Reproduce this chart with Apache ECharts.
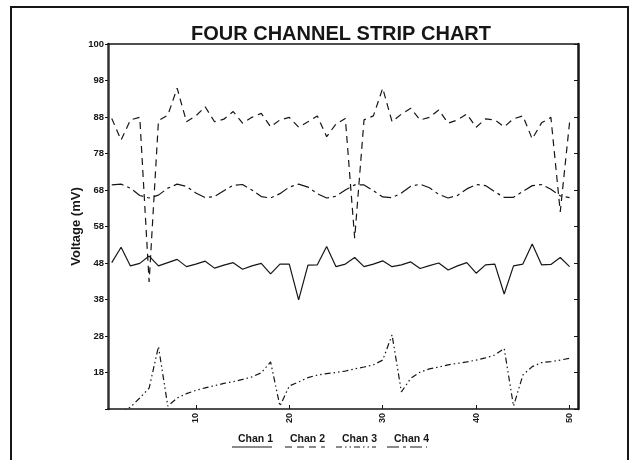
<!DOCTYPE html>
<html><head><meta charset="utf-8">
<script src="https://cdn.jsdelivr.net/npm/echarts@6/dist/echarts.min.js"></script>
<style>html,body{margin:0;padding:0;background:#fff}#c{width:639px;height:460px}</style>
</head><body><div id="c"></div>
<script>
const sampleIndex = [1,2,3,4,5,6,7,8,9,10,11,12,13,14,15,16,17,18,19,20,21,22,23,24,25,26,27,28,29,30,31,32,33,34,35,36,37,38,39,40,41,42,43,44,45,46,47,48,49,50];
const seriesNames = ['Chan 1','Chan 2','Chan 3','Chan 4'];
const chan1 = [40.1,44.3,39.2,39.9,41.9,39.2,40.1,41.0,39.0,39.7,40.5,38.6,39.4,40.1,38.3,39.2,39.9,37.0,39.7,39.7,29.9,39.4,39.5,44.5,39.0,39.7,41.5,39.0,39.7,40.6,39.0,39.5,40.3,38.5,39.3,40.0,38.1,39.2,40.1,37.2,39.5,39.7,31.5,39.2,39.7,45.2,39.5,39.6,41.5,39.0];
const chan2 = [79.6,73.7,79.2,79.9,34.8,79.0,80.5,87.9,78.7,80.3,82.8,78.7,79.4,81.5,78.3,79.9,81.0,77.3,79.2,79.9,77.2,78.7,80.3,74.6,78.1,79.6,46.8,79.2,80.3,87.9,78.7,80.8,82.4,79.2,79.9,81.9,78.3,79.2,80.8,77.2,79.5,79.2,77.3,79.5,80.3,74.0,78.4,79.9,54.0,78.6];
const chan3 = [null,-1.0,0.5,3.0,5.7,17.1,0.8,3.0,4.2,5.1,5.8,6.4,7.0,7.5,8.1,8.8,9.9,12.9,0.8,6.3,7.4,8.6,9.3,9.7,10.0,10.4,11.0,11.5,12.1,13.4,20.3,4.7,8.4,10.1,11.0,11.5,12.1,12.5,12.9,13.4,14.0,14.8,16.6,0.8,9.3,11.6,12.7,13.0,13.4,13.9];
const chan4 = [61.4,61.6,60.5,58.5,57.8,58.6,60.5,61.6,61.0,59.2,57.9,58.2,59.8,61.3,61.5,60.0,58.2,57.8,59.0,60.8,61.6,60.8,59.0,57.8,58.3,60.0,61.4,61.4,59.8,58.1,57.9,59.2,61.0,61.6,60.6,58.8,57.8,58.5,60.3,61.5,61.2,59.5,58.0,58.0,59.6,61.2,61.5,60.2,58.4,57.9];
const xTickValues = [10,20,30,40,50];
const yTickValues = [0,10,20,30,40,50,60,70,80,90,100];
const yTickLabels = ['','18','28','38','48','58','68','78','88','98','100'];

const styles = {
  'Chan 1': {type:'solid'},
  'Chan 2': {type:[7,5]},
  'Chan 3': {type:[6,3,1.5,3,1.5,3]},
  'Chan 4': {type:[12,4,3,4]}
};
const allData = [chan1, chan2, chan3, chan4];
const ink = '#161616';

const chart = echarts.init(document.getElementById('c'), null, {renderer:'canvas'});
const commonX = {type:'value', min:0.6, max:50.9, splitLine:{show:false}};
const commonY = {type:'value', min:0, max:100, interval:10, splitLine:{show:false}};

const legendX = [232, 285, 336, 387];
const graphics = [
  {type:'polyline', shape:{points:[[11,460],[11,7],[628,7],[628,460]]}, style:{stroke:ink, lineWidth:2, fill:null}, silent:true}
];
seriesNames.forEach((n, k) => {
  graphics.push({type:'line', shape:{x1:legendX[k], y1:447, x2:legendX[k]+40, y2:447},
    style:{stroke:ink, lineWidth:1.2, lineDash: styles[n].type === 'solid' ? null : styles[n].type}, silent:true});
});

chart.setOption({
  backgroundColor:'#fff',
  animation:false,
  title:{text:'FOUR CHANNEL STRIP CHART', left:336, top:19, textAlign:'center',
    textStyle:{fontFamily:'Liberation Sans', fontSize:20, fontWeight:'bold', color:ink}},
  grid:{left:108, right:61, top:44, bottom:51, containLabel:false},
  legend:{data:seriesNames, icon:'none', itemWidth:0, itemHeight:8, itemGap:12, left:228, top:429,
    textStyle:{fontFamily:'Liberation Sans', fontSize:10.5, fontWeight:'bold', color:ink}},
  xAxis:[
    Object.assign({}, commonX, {position:'bottom',
      axisLine:{onZero:false, lineStyle:{color:ink, width:1.5}},
      axisTick:{show:true, inside:true, length:4, customValues:xTickValues, lineStyle:{color:ink}},
      axisLabel:{customValues:xTickValues, rotate:90, fontFamily:'Liberation Sans', fontSize:9, fontWeight:'bold', color:ink, margin:4}}),
    Object.assign({}, commonX, {position:'top',
      axisLine:{onZero:false, lineStyle:{color:ink, width:1.5}},
      axisTick:{show:false}, axisLabel:{show:false}})
  ],
  yAxis:[
    Object.assign({}, commonY, {position:'left',
      axisLine:{onZero:false, lineStyle:{color:'#333', width:2.5}},
      axisTick:{show:true, length:3, lineStyle:{color:ink}},
      axisLabel:{fontFamily:'Liberation Sans', fontSize:9.5, fontWeight:'bold', color:ink, margin:4,
        formatter:v => yTickLabels[yTickValues.indexOf(v)] || ''},
      name:'Voltage (mV)', nameLocation:'middle', nameGap:25, nameMoveOverlap:false,
      nameTextStyle:{fontFamily:'Liberation Sans', fontSize:13, fontWeight:'bold', color:ink}}),
    Object.assign({}, commonY, {position:'right',
      axisLine:{onZero:false, lineStyle:{color:ink, width:2.5}},
      axisTick:{show:true, inside:true, length:4, lineStyle:{color:ink}},
      axisLabel:{show:false}})
  ],
  series: seriesNames.map((n, k) => ({
    name:n, type:'line', symbol:'none', clip:true, xAxisIndex:0, yAxisIndex:0,
    data: sampleIndex.map((x, i) => [x, allData[k][i]]),
    lineStyle:{color:ink, width:1.2, type:styles[n].type},
    itemStyle:{color:ink}
  })),
  graphic: graphics
});
</script></body></html>
